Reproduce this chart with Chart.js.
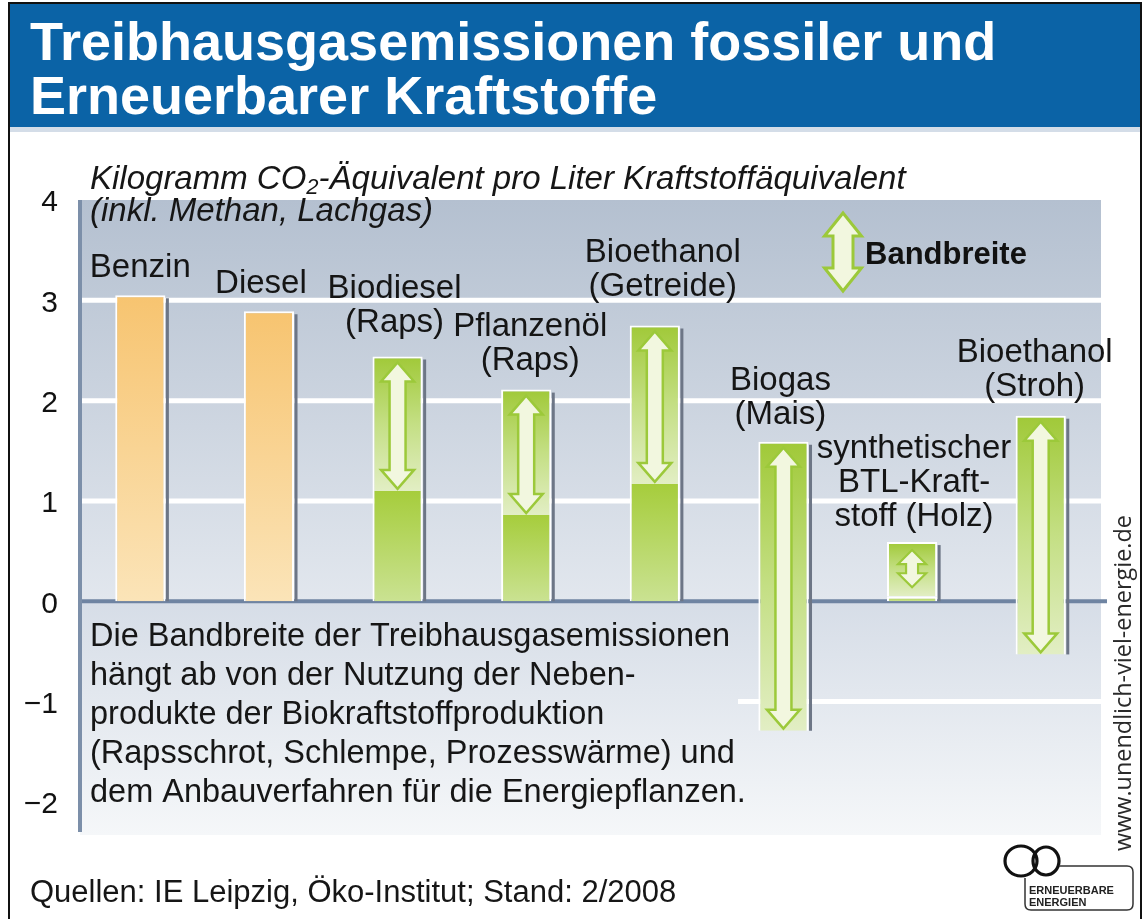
<!DOCTYPE html>
<html lang="de">
<head>
<meta charset="utf-8">
<title>Treibhausgasemissionen fossiler und Erneuerbarer Kraftstoffe</title>
<script src="https://cdn.jsdelivr.net/npm/chart.js@4.4.1/dist/chart.umd.min.js"></script>
<style>
  html, body { margin: 0; padding: 0; background: #fff; }
  canvas { display: block; }
</style>
</head>
<body>
<canvas id="chart" width="1143" height="919"></canvas>
<script>
// ---- Daten (kg CO2-Äquivalent pro Liter Kraftstoffäquivalent) ----
const categories = [
  ["Benzin"],
  ["Diesel"],
  ["Biodiesel", "(Raps)"],
  ["Pflanzenöl", "(Raps)"],
  ["Bioethanol", "(Getreide)"],
  ["Biogas", "(Mais)"],
  ["synthetischer", "BTL-Kraft-", "stoff (Holz)"],
  ["Bioethanol", "(Stroh)"]
];
const fossilValues = [3.05, 2.89, null, null, null, null, null, null];
const baseValues   = [null, null, 1.10, 0.86, 1.17, null, 0.05, null];
const bandLow      = [null, null, 1.10, 0.86, 1.17, -1.29, 0.05, -0.53];
const bandHigh     = [null, null, 2.44, 2.11, 2.75, 1.59, 0.59, 1.85];
const yTicks = [4, 3, 2, 1, 0, -1, -2];

const titleLines = ["Treibhausgasemissionen fossiler und", "Erneuerbarer Kraftstoffe"];
const unitLine1 = ["Kilogramm CO", "2", "-Äquivalent pro Liter Kraftstoffäquivalent"];
const unitLine2 = "(inkl. Methan, Lachgas)";
const legendText = "Bandbreite";
const noteLines = [
  "Die Bandbreite der Treibhausgasemissionen",
  "hängt ab von der Nutzung der Neben-",
  "produkte der Biokraftstoffproduktion",
  "(Rapsschrot, Schlempe, Prozesswärme) und",
  "dem Anbauverfahren für die Energiepflanzen."
];
const sourceText = "Quellen: IE Leipzig, Öko-Institut; Stand: 2/2008";
const urlText = "www.unendlich-viel-energie.de";
const logoLines = ["ERNEUERBARE", "ENERGIEN"];

// label placement above each column (px above bar top, horizontal nudge)
const labelLift  = [27, 27, 34, 29, 38, 27, 25, 29];
const labelShift = [0, -8, -3, 4, 8, -3, 2, -6];

const FONT = '"Liberation Sans", Arial, Helvetica, sans-serif';

// vertical gradient between the two values of a bar
function barGradient(stops, fallback) {
  return (c) => {
    const chart = c.chart;
    const y = chart.scales && chart.scales.y;
    if (c.type !== 'data' || !y || c.raw == null) return fallback;
    const r = Array.isArray(c.raw) ? c.raw : [0, c.raw];
    const top = y.getPixelForValue(Math.max(r[0], r[1]));
    const bot = y.getPixelForValue(Math.min(r[0], r[1]));
    if (!isFinite(top) || !isFinite(bot) || top === bot) return fallback;
    const g = chart.ctx.createLinearGradient(0, top, 0, bot);
    stops.forEach((s, i) => g.addColorStop(i / (stops.length - 1), s));
    return g;
  };
}

function seg(ctx, x1, y1, x2, y2) {
  ctx.beginPath(); ctx.moveTo(x1, y1); ctx.lineTo(x2, y2); ctx.stroke();
}

function doubleArrow(ctx, cx, top, bottom, headW, shaftW, headL, lw) {
  ctx.beginPath();
  ctx.moveTo(cx, top);
  ctx.lineTo(cx + headW / 2, top + headL);
  ctx.lineTo(cx + shaftW / 2, top + headL);
  ctx.lineTo(cx + shaftW / 2, bottom - headL);
  ctx.lineTo(cx + headW / 2, bottom - headL);
  ctx.lineTo(cx, bottom);
  ctx.lineTo(cx - headW / 2, bottom - headL);
  ctx.lineTo(cx - shaftW / 2, bottom - headL);
  ctx.lineTo(cx - shaftW / 2, top + headL);
  ctx.lineTo(cx - headW / 2, top + headL);
  ctx.closePath();
  ctx.fillStyle = '#f2f7df';
  ctx.fill();
  ctx.lineJoin = 'miter';
  ctx.lineWidth = lw;
  ctx.strokeStyle = '#9cc93a';
  ctx.stroke();
}

// page frame, header, plot background, grid and free texts
const pagePlugin = {
  id: 'page',
  beforeDraw(chart) {
    const { ctx, chartArea: a, scales: { y } } = chart;
    ctx.save();
    ctx.fillStyle = '#ffffff';
    ctx.fillRect(0, 0, chart.width, chart.height);

    // header band
    ctx.fillStyle = '#0b63a6';
    ctx.fillRect(8, 3, 1134, 124);
    ctx.fillStyle = '#d4dde8';
    ctx.fillRect(9, 127, 1132, 5);
    ctx.strokeStyle = '#111';
    ctx.lineWidth = 2;
    ctx.beginPath();
    ctx.moveTo(9, 919); ctx.lineTo(9, 3); ctx.lineTo(1141, 3); ctx.lineTo(1141, 919);
    ctx.stroke();

    ctx.fillStyle = '#ffffff';
    ctx.font = 'bold 54px ' + FONT;
    ctx.textAlign = 'left';
    ctx.textBaseline = 'alphabetic';
    ctx.fillText(titleLines[0], 30, 60);
    ctx.fillText(titleLines[1], 30, 114);

    // plot background
    const left = a.left + 4, right = a.right - 4;
    const y0 = y.getPixelForValue(0);
    let g = ctx.createLinearGradient(0, a.top, 0, y0);
    g.addColorStop(0, '#b4c0d0');
    g.addColorStop(1, '#e2e7ee');
    ctx.fillStyle = g;
    ctx.fillRect(left, a.top, right - left, y0 - a.top);
    g = ctx.createLinearGradient(0, y0, 0, a.bottom);
    g.addColorStop(0, '#d6dde7');
    g.addColorStop(1, '#f5f7f9');
    ctx.fillStyle = g;
    ctx.fillRect(left, y0, right - left, a.bottom - y0);

    // white grid lines
    ctx.strokeStyle = '#ffffff';
    ctx.lineWidth = 5;
    [1, 2, 3].forEach(v => {
      const p = y.getPixelForValue(v);
      seg(ctx, left, p, right, p);
    });
    const pm = y.getPixelForValue(-1);
    seg(ctx, 738, pm, right, pm);

    // zero line and value axis
    ctx.strokeStyle = '#6f84a2';
    ctx.lineWidth = 4;
    seg(ctx, left, y0, right + 6, y0);
    ctx.strokeStyle = '#7c8fa9';
    seg(ctx, a.left + 4, a.top, a.left + 4, a.bottom - 3);

    // unit label
    ctx.fillStyle = '#161616';
    ctx.textBaseline = 'middle';
    ctx.font = 'italic 33px ' + FONT;
    let x = 90;
    ctx.fillText(unitLine1[0], x, 180);
    x += ctx.measureText(unitLine1[0]).width;
    ctx.font = 'italic 22px ' + FONT;
    ctx.fillText(unitLine1[1], x, 188);
    x += ctx.measureText(unitLine1[1]).width;
    ctx.font = 'italic 33px ' + FONT;
    ctx.fillText(unitLine1[2], x, 180);
    ctx.fillText(unitLine2, 90, 212);

    // explanatory note below zero
    ctx.font = '32.5px ' + FONT;
    noteLines.forEach((t, i) => ctx.fillText(t, 90, 637 + i * 39));

    // source line
    ctx.font = '31px ' + FONT;
    ctx.fillText(sourceText, 30, 893);

    // vertical web address
    ctx.save();
    ctx.translate(1124, 851);
    ctx.rotate(-Math.PI / 2);
    ctx.font = '24px "Open Sans", ' + FONT;
    ctx.fillStyle = '#2a2a2a';
    const uw = ctx.measureText(urlText).width;
    ctx.scale(336 / uw, 1);
    ctx.fillText(urlText, 0, 0);
    ctx.restore();

    // logo
    ctx.strokeStyle = '#111';
    ctx.lineWidth = 3.2;
    ctx.beginPath(); ctx.ellipse(1021, 861, 16, 15, 0, 0, Math.PI * 2); ctx.stroke();
    ctx.beginPath(); ctx.ellipse(1046, 861, 13, 14, 0, 0, Math.PI * 2); ctx.stroke();
    ctx.lineWidth = 1.5;
    ctx.strokeStyle = '#333';
    ctx.beginPath();
    ctx.moveTo(1059, 866);
    ctx.lineTo(1127, 866);
    ctx.quadraticCurveTo(1133, 866, 1133, 872);
    ctx.lineTo(1133, 904);
    ctx.quadraticCurveTo(1133, 910, 1127, 910);
    ctx.lineTo(1031, 910);
    ctx.quadraticCurveTo(1025, 910, 1025, 904);
    ctx.lineTo(1025, 878);
    ctx.stroke();
    ctx.fillStyle = '#222';
    ctx.font = 'bold 11px ' + FONT;
    ctx.fillText(logoLines[0], 1029, 891);
    ctx.fillText(logoLines[1], 1029, 903);
    ctx.restore();
  },

  afterDatasetsDraw(chart) {
    const { ctx, scales: { y } } = chart;
    const fossilMeta = chart.getDatasetMeta(0);
    const bandMeta = chart.getDatasetMeta(2);
    ctx.save();

    categories.forEach((lines, i) => {
      const el = fossilMeta.data[i] && fossilValues[i] != null ? fossilMeta.data[i] : bandMeta.data[i];
      const cx = el.x, half = el.width / 2;
      const hi = fossilValues[i] != null ? fossilValues[i] : bandHigh[i];
      const lo = fossilValues[i] != null ? 0 : Math.min(0, bandLow[i]);
      const top = y.getPixelForValue(hi);
      const bot = y.getPixelForValue(lo);

      // side shadow
      ctx.strokeStyle = '#6d7686';
      ctx.lineWidth = 3;
      seg(ctx, cx + half + 2, top + 3, cx + half + 2, bot);

      // range arrow
      if (bandHigh[i] != null) {
        const bt = y.getPixelForValue(bandHigh[i]);
        const bb = y.getPixelForValue(bandLow[i]);
        if (bb - bt < 80) {
          doubleArrow(ctx, cx, bt + 8, bb - 9, 28, 12, 14, 2.2);
        } else {
          doubleArrow(ctx, cx, bt + 6, bb - 2, 33, 16, 19, 2.5);
        }
      }

      // column label
      ctx.fillStyle = '#151515';
      ctx.font = '33px ' + FONT;
      ctx.textAlign = 'center';
      ctx.textBaseline = 'middle';
      const lastY = top - labelLift[i];
      lines.forEach((t, k) => {
        ctx.fillText(t, cx + labelShift[i], lastY - (lines.length - 1 - k) * 34);
      });
    });

    // legend
    doubleArrow(ctx, 843, 213, 291, 37, 20, 23, 3);
    ctx.fillStyle = '#111';
    ctx.font = 'bold 31px ' + FONT;
    ctx.textAlign = 'left';
    ctx.textBaseline = 'middle';
    ctx.fillText(legendText, 865, 255);
    ctx.restore();
  }
};

new Chart(document.getElementById('chart'), {
  type: 'bar',
  data: {
    labels: categories,
    datasets: [
      {
        label: 'fossil',
        data: fossilValues,
        backgroundColor: barGradient(['#f7c470', '#fbe4b8'], '#f8cf88'),
        borderColor: '#ffffff',
        borderWidth: { top: 2, left: 2, right: 2, bottom: 0 },
        borderSkipped: false
      },
      {
        label: 'Sockel',
        data: baseValues.map(v => v == null ? null : [0, v]),
        backgroundColor: barGradient(['#a6cd3c', '#cae292'], '#b2d455'),
        borderColor: '#ffffff',
        borderWidth: (c) => c.dataIndex === 6 ? { top: 3, left: 2, right: 2, bottom: 0 } : { top: 0, left: 2, right: 2, bottom: 0 },
        borderSkipped: false
      },
      {
        label: 'Bandbreite',
        data: bandLow.map((lo, i) => lo == null ? null : [lo, bandHigh[i]]),
        backgroundColor: barGradient(['#a0c938', '#c4df84', '#e2eec4'], '#b8d86a'),
        borderColor: '#ffffff',
        borderWidth: { top: 2, left: 2, right: 2, bottom: 0 },
        borderSkipped: false
      }
    ]
  },
  options: {
    responsive: false,
    animation: false,
    devicePixelRatio: 1,
    layout: { padding: { top: 200, left: 8, right: 38, bottom: 84 } },
    datasets: { bar: { grouped: false, barPercentage: 0.39, categoryPercentage: 1 } },
    plugins: { legend: { display: false }, tooltip: { enabled: false }, title: { display: false } },
    scales: {
      x: { display: false },
      y: {
        min: -2.33,
        max: 4,
        afterBuildTicks: (s) => { s.ticks = yTicks.map(v => ({ value: v })); },
        afterFit: (s) => { s.width = 68; },
        grid: { display: false },
        border: { display: false },
        ticks: {
          color: '#111',
          padding: 10,
          labelOffset: 3,
          font: { family: FONT, size: 30 },
          callback: (v) => v < 0 ? '\u2212' + Math.abs(v) : String(v)
        }
      }
    }
  },
  plugins: [pagePlugin]
});
</script>
</body>
</html>
